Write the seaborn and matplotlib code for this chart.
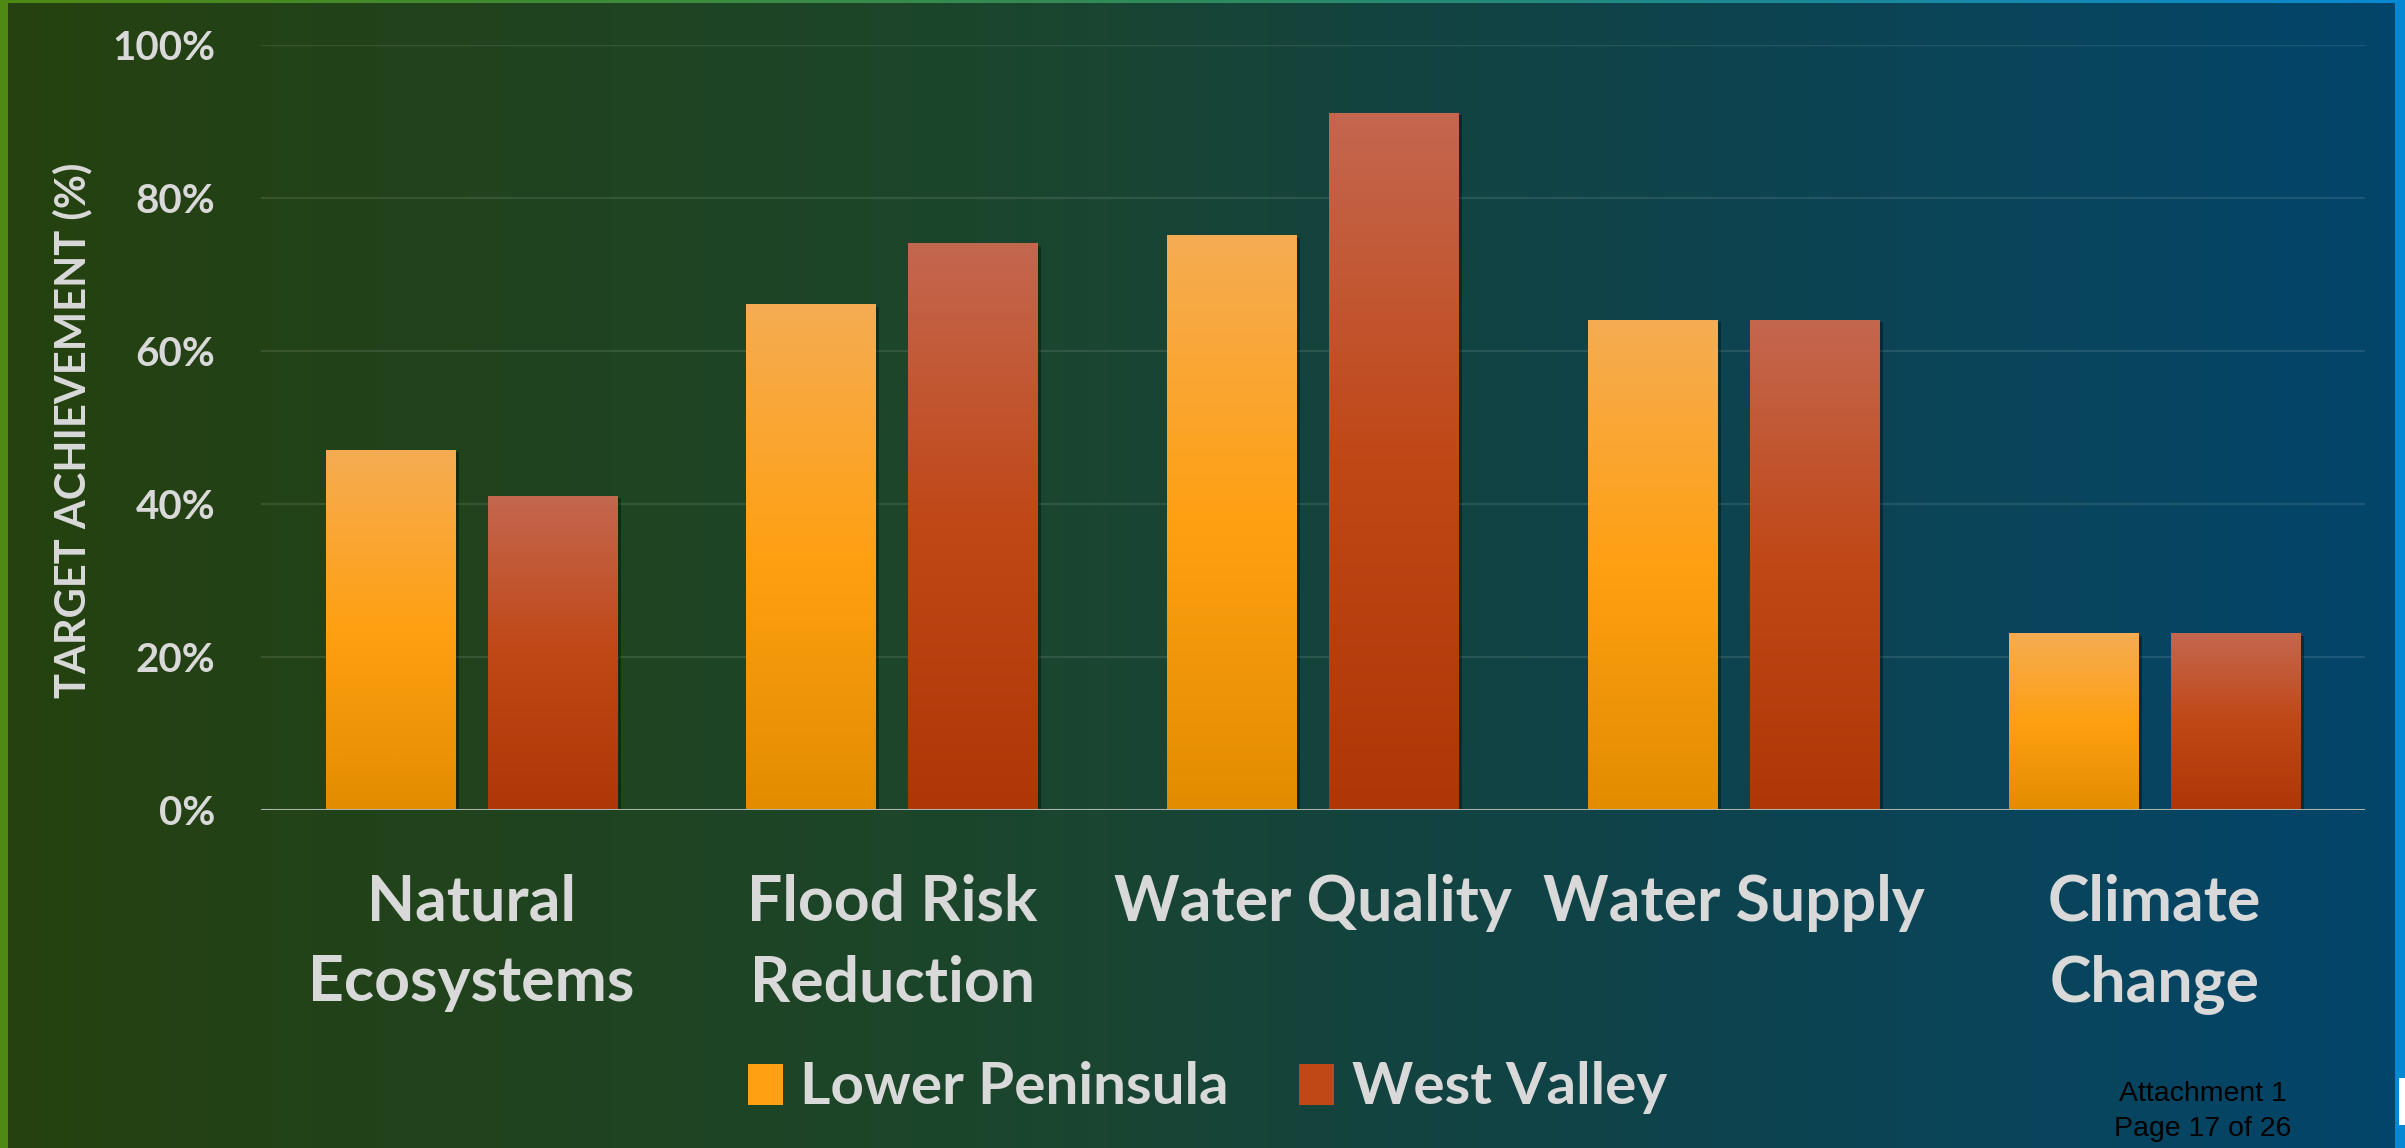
import numpy as np
import pandas as pd
import matplotlib
matplotlib.use("Agg")
import matplotlib.pyplot as plt
import seaborn as sns
from matplotlib.colors import LinearSegmentedColormap, to_rgb
from matplotlib.patches import Rectangle, Patch
import matplotlib.patheffects as pe

# ---- data ----
categories = ["Natural\nEcosystems", "Flood Risk\nReduction", "Water Quality",
              "Water Supply", "Climate\nChange"]
series_names = ["Lower Peninsula", "West Valley"]
lower_peninsula = [47, 66, 75, 64, 23]
west_valley = [41, 74, 91, 64, 23]
y_ticks = [0, 20, 40, 60, 80, 100]
y_tick_labels = ["0%", "20%", "40%", "60%", "80%", "100%"]

df = pd.DataFrame({
    "category": categories * 2,
    "series": [series_names[0]] * 5 + [series_names[1]] * 5,
    "value": lower_peninsula + west_valley,
})

sns.set_theme(style="white")
plt.rcParams["font.family"] = ["Lato", "DejaVu Sans"]
plt.rcParams["font.weight"] = "bold"

W, H = 2405, 1148
fig = plt.figure(figsize=(W / 100, H / 100), dpi=100)

# ---- background ----
bg = fig.add_axes([0, 0, 1, 1], zorder=-10)
bg_cmap = LinearSegmentedColormap.from_list(
    "bg", [(0.0, "#25410F"), (0.42, "#1B462D"), (0.58, "#134340"), (1.0, "#03456B")])
bg.imshow(np.linspace(0, 1, 512)[None, :], cmap=bg_cmap, aspect="auto",
          extent=[0, 1, 0, 1], interpolation="bicubic")
top_cmap = LinearSegmentedColormap.from_list(
    "top", [(0.0, "#4E8A14"), (0.5, "#2E8B5E"), (1.0, "#0A88D2")])
bg.imshow(np.linspace(0, 1, 512)[None, :], cmap=top_cmap, aspect="auto",
          extent=[0, 1, 1 - 3 / H, 1], interpolation="bicubic")
bg.add_patch(Rectangle((0, 0), 8 / W, 1, color="#4F8913", lw=0))
bg.add_patch(Rectangle((2395 / W, 0), 10 / W, 1, color="#0788D4", lw=0))
bg.add_patch(Rectangle((2399 / W, 1 - 1125 / H), 6 / W, 47 / H, color="white", lw=0))
bg.set_xlim(0, 1); bg.set_ylim(0, 1); bg.axis("off")

# ---- main axes ----
ax = fig.add_axes([261 / W, 1 - 810 / H, (2365 - 261) / W, (810 - 44.5) / H])
ax.set_facecolor((0, 0, 0, 0))
mid_colors = {"Lower Peninsula": "#FFA012", "West Valley": "#C04716"}
sns.barplot(data=df, x="category", y="value", hue="series",
            order=categories, hue_order=series_names,
            palette=mid_colors, width=0.77, gap=0.2, legend=False,
            ax=ax, zorder=3, edgecolor="none", linewidth=0)

grad_stops = {
    "Lower Peninsula": [(0.0, "#F5AC52"), (0.5, "#FFA012"), (1.0, "#E38C00")],
    "West Valley": [(0.0, "#C4674F"), (0.5, "#C04716"), (1.0, "#AF3707")],
}
cmaps = {k: LinearSegmentedColormap.from_list(k, v) for k, v in grad_stops.items()}
grad = np.linspace(0, 1, 256)[:, None]
for p in list(ax.patches):
    fc = p.get_facecolor()[:3]
    key = min(mid_colors, key=lambda k: np.sum((np.array(to_rgb(mid_colors[k])) - np.array(fc)) ** 2))
    x0, y0, w, h = p.get_x(), p.get_y(), p.get_width(), p.get_height()
    p.set_path_effects([pe.SimplePatchShadow(offset=(2.5, -1.5), shadow_rgbFace="black", alpha=0.35),
                        pe.Normal()])
    ax.imshow(grad, cmap=cmaps[key], aspect="auto", extent=[x0, x0 + w, y0, y0 + h],
              zorder=3.5, interpolation="bicubic")

ax.set_xlim(-0.5, 4.5)
ax.set_ylim(0, 100)
ax.set_yticks(y_ticks)
ax.set_yticklabels(y_tick_labels)
for s in ax.spines.values():
    s.set_visible(False)
for yv in y_ticks[1:]:
    ax.axhline(yv, color="white", alpha=0.10, lw=1.6, zorder=1)
ax.axhline(0, color="#AEB4AC", lw=2.2, zorder=5)
ax.tick_params(axis="both", length=0)
ax.tick_params(axis="y", pad=33, labelsize=29, labelcolor="#D9D9D9")
ax.tick_params(axis="x", pad=46, labelsize=45, labelcolor="#D9D9D9")
for t in ax.get_xticklabels():
    t.set_linespacing(1.48)
    t.set_fontweight("bold")
for t in ax.get_yticklabels():
    t.set_fontweight("bold")
ax.set_xlabel("")
ax.set_ylabel("")

fig.text(72 / W, 1 - 430 / H, "TARGET ACHIEVEMENT (%)", rotation=90, ha="center", va="center",
         fontsize=30, color="#D9D9D9", fontweight="bold")

handles = [Patch(facecolor=mid_colors[s], edgecolor="none") for s in series_names]
leg = fig.legend(handles, series_names, loc="center", bbox_to_anchor=(0.502, 1 - 1088 / H),
                 ncol=2, frameon=False, fontsize=42, labelcolor="#D9D9D9",
                 handlelength=0.6, handleheight=0.7, handletextpad=0.3, columnspacing=1.2)
for t in leg.get_texts():
    t.set_fontweight("bold")

# gradient fill on the legend swatches
fig.canvas.draw()
for hnd, s in zip(leg.legend_handles, series_names):
    bb = hnd.get_window_extent().transformed(fig.transFigure.inverted())
    lax = fig.add_axes([bb.x0, bb.y0, bb.width, bb.height], zorder=5)
    lax.imshow(grad, cmap=cmaps[s], aspect="auto", interpolation="bicubic")
    lax.axis("off")

fig.text(2203 / W, 1 - 1094 / H, "Attachment 1", ha="center", va="center",
         fontsize=20.5, color="black", family=["Liberation Sans", "DejaVu Sans"], fontweight="normal")
fig.text(2203 / W, 1 - 1129 / H, "Page 17 of 26", ha="center", va="center",
         fontsize=20.5, color="black", family=["Liberation Sans", "DejaVu Sans"], fontweight="normal")

fig.savefig("out.png", dpi=100)
